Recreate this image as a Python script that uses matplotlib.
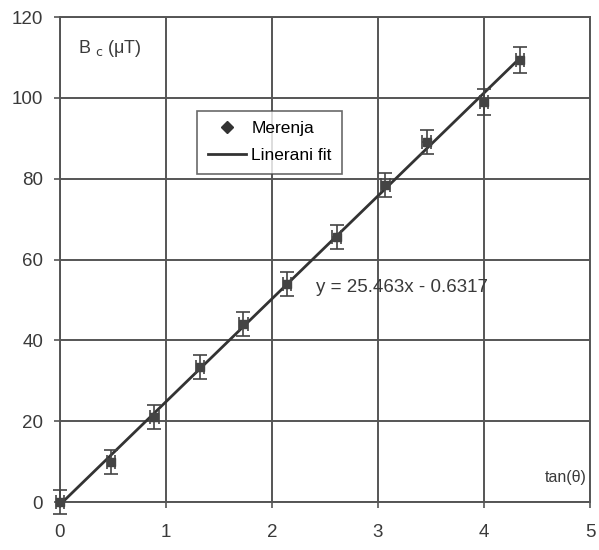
import matplotlib
matplotlib.use("Agg")
import matplotlib.pyplot as plt
from matplotlib.lines import Line2D
import numpy as np

tan_theta = [0.0, 0.48, 0.89, 1.32, 1.73, 2.14, 2.61, 3.07, 3.46, 4.00, 4.34]
b_c = [0.0, 10.0, 21.0, 33.5, 44.0, 54.0, 65.5, 78.5, 89.0, 99.0, 109.3]
b_err = [3.0, 3.0, 3.0, 3.0, 3.0, 3.0, 3.0, 3.0, 3.0, 3.2, 3.2]
x_err = [0.04] * 11
slope = 25.463
intercept = -0.6317
x_ticks = [0, 1, 2, 3, 4, 5]
y_ticks = [0, 20, 40, 60, 80, 100, 120]

plt.rcParams['font.family'] = ['Liberation Sans', 'DejaVu Sans']

fig = plt.figure(figsize=(5.99, 5.5), dpi=100)
ax = fig.add_axes([0.1, 0.087, 0.885, 0.882])

grid_c = '#555555'
ax.set_xlim(0, 5)
ax.set_ylim(0, 120)
ax.set_xticks(x_ticks)
ax.set_yticks(y_ticks)
ax.grid(True, color=grid_c, linewidth=1.4)
for s in ax.spines.values():
    s.set_color(grid_c)
    s.set_linewidth(1.4)
ax.tick_params(direction='out', length=4, width=1.2, color=grid_c,
               labelsize=13.5, labelcolor='#3a3a3a')
ax.tick_params(axis='x', pad=12)
ax.tick_params(axis='y', pad=8)
ax.set_axisbelow(True)

xfit = np.array([0.0, max(tan_theta)])
ax.plot(xfit, slope * xfit + intercept, color='#333333', linewidth=2, zorder=3)

ax.errorbar(tan_theta, b_c, yerr=b_err, xerr=x_err, fmt='s', color='#444444',
            markersize=6, ecolor='#444444', elinewidth=1.2, capsize=5,
            capthick=1.2, zorder=4, clip_on=False)

ax.text(0.035, 0.935, r'B $_{\rm c}$ (μT)', transform=ax.transAxes, fontsize=13,
        color='#3a3a3a', va='center', ha='left')
ax.text(0.915, 0.05, 'tan(θ)', transform=ax.transAxes, fontsize=11.5,
        color='#3a3a3a', va='center', ha='left')
ax.text(2.42, 53.2, 'y = 25.463x - 0.6317', fontsize=13.5, color='#3a3a3a',
        va='center', ha='left')

handles = [Line2D([], [], marker='D', linestyle='none', color='#333333', markersize=6),
           Line2D([], [], color='#333333', linewidth=2)]
leg = ax.legend(handles, ['Merenja', 'Linerani fit'], loc='upper left',
                bbox_to_anchor=(0.243, 0.825), fontsize=12.5, frameon=True,
                fancybox=False, edgecolor='#444444', handlelength=2.2,
                handletextpad=0.3, borderpad=0.6, labelspacing=0.7)
leg.get_frame().set_linewidth(1.2)

fig.savefig('out.png', dpi=100)
